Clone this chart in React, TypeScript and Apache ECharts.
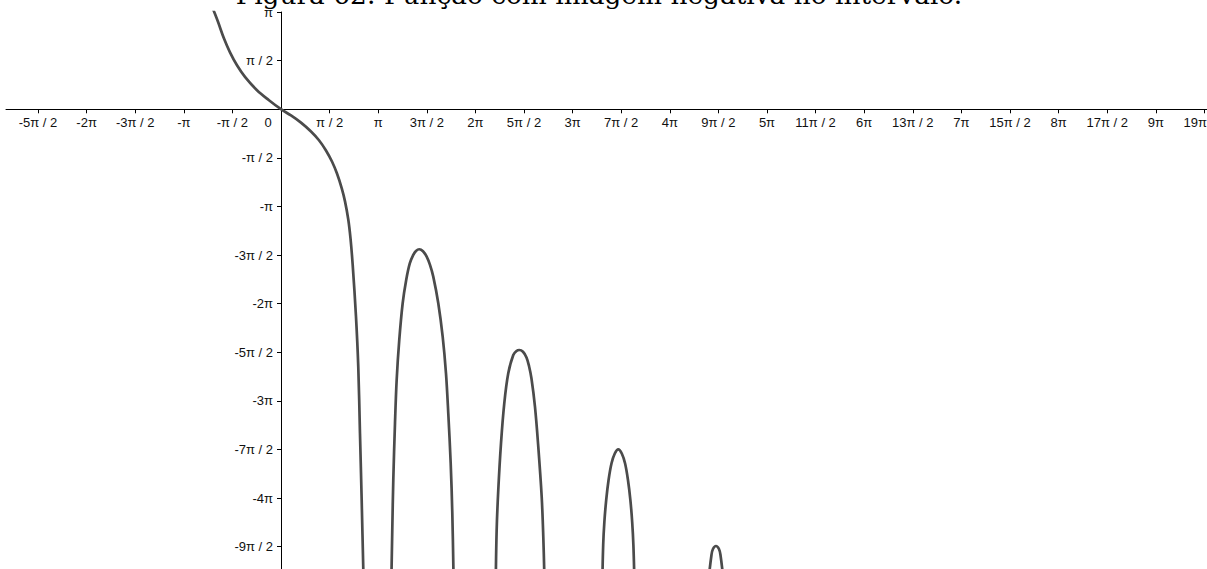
import React, { useEffect, useRef } from "react";
import * as echarts from "echarts";

const TITLE = "Figura 62: Função com imagem negativa no intervalo.";

// tick positions in multiples of π/2, with their labels
const xTickHalves = [-5, -4, -3, -2, -1, 0, 1, 2, 3, 4, 5, 6, 7, 8, 9, 10, 11, 12, 13, 14, 15, 16, 17, 18, 19];
const xTickLabels = [
  "-5π / 2", "-2π", "-3π / 2", "-π", "-π / 2", "0", "π / 2", "π", "3π / 2", "2π", "5π / 2", "3π",
  "7π / 2", "4π", "9π / 2", "5π", "11π / 2", "6π", "13π / 2", "7π", "15π / 2", "8π", "17π / 2", "9π", "19π / 2",
];
const yTickHalves = [2, 1, -1, -2, -3, -4, -5, -6, -7, -8, -9];
const yTickLabels = ["π", "π / 2", "-π / 2", "-π", "-3π / 2", "-2π", "-5π / 2", "-3π", "-7π / 2", "-4π", "-9π / 2"];

// curve pieces, [x, y] in radians
const mainBranch = [
  [-2.262, 3.413], [-2.198, 3.245], [-2.036, 2.825], [-1.842, 2.282], [-1.648, 1.836], [-1.422, 1.419],
  [-1.164, 1.044], [-0.776, 0.614], [-0.388, 0.291], [0, 0], [0.323, -0.2], [0.646, -0.433], [0.97, -0.718],
  [1.228, -1.002], [1.454, -1.332], [1.648, -1.69], [1.81, -2.078], [1.962, -2.55], [2.069, -2.977],
  [2.175, -3.565], [2.246, -4.169], [2.317, -5.023], [2.424, -6.703], [2.498, -8.319], [2.553, -10.472],
  [2.608, -12.628], [2.66, -14.858], [2.67, -15.2],
];
const arch1 = [
  [3.568, -15.2], [3.597, -13.597], [3.63, -11.981], [3.685, -10.139], [3.739, -8.749], [3.823, -7.456],
  [3.933, -6.27], [4.047, -5.517], [4.163, -4.984], [4.276, -4.709], [4.363, -4.58], [4.47, -4.525],
  [4.59, -4.59], [4.709, -4.764], [4.816, -5.032], [4.922, -5.41], [5.084, -6.27], [5.226, -7.35],
  [5.333, -8.533], [5.407, -9.825], [5.485, -11.441], [5.537, -13.048], [5.579, -15.2],
];
const arch2 = [
  [6.942, -15.2], [6.971, -13.597], [7.023, -12.304], [7.111, -10.795], [7.217, -9.502], [7.346, -8.533],
  [7.508, -7.941], [7.612, -7.812], [7.702, -7.78], [7.822, -7.838], [7.935, -8.022], [8.016, -8.297],
  [8.096, -8.701], [8.209, -9.612], [8.316, -10.905], [8.426, -12.521], [8.478, -13.814], [8.516, -15.2],
];
const arch3 = [
  [10.388, -15.2], [10.414, -14.082], [10.452, -13.339], [10.511, -12.628], [10.588, -11.981],
  [10.682, -11.448], [10.789, -11.125], [10.902, -10.989], [11.015, -11.125], [11.122, -11.448],
  [11.215, -11.981], [11.293, -12.628], [11.351, -13.339], [11.39, -14.082], [11.422, -15.2],
];
const arch4 = [
  [13.82, -15.2], [13.914, -14.405], [13.962, -14.211], [14.059, -14.114], [14.156, -14.211],
  [14.205, -14.405], [14.3, -15.2],
];

const X_MIN = -8.888;
const X_MAX = 29.93;
const Y_MIN = -14.857;
const Y_MAX = Math.PI;

// layout of the drawing area (pixels)
const LEFT = 6;
const TOP = 12;
const ORIGIN_X = 281;
const ORIGIN_Y = 109.3;

const HALF = Math.PI / 2;

function labelFor(halves: number[], labels: string[], v: number) {
  const k = Math.round(v / HALF);
  const i = halves.indexOf(k);
  return i >= 0 ? labels[i] : "";
}

export default function App() {
  const ref = useRef<HTMLDivElement>(null);
  useEffect(() => {
    if (!ref.current) return;
    const chart = echarts.init(ref.current, null, { renderer: "svg" });
    const lineStyle = { color: "#4b4b4b", width: 2.7 };
    const mk = (data: number[][]) => ({
      type: "line",
      xAxisIndex: 0,
      yAxisIndex: 0,
      data,
      showSymbol: false,
      smooth: 0.35,
      clip: true,
      lineStyle,
      silent: true,
    });
    const labelFont = { fontFamily: "Liberation Sans", fontSize: 13, color: "#111" };
    const hidden = { show: false };
    chart.setOption({
      animation: false,
      grid: [
        { left: LEFT, right: 0, top: TOP, bottom: 0, containLabel: false, outerBoundsMode: "none" },
        { left: LEFT, right: 0, top: TOP, height: ORIGIN_Y - TOP, containLabel: false, outerBoundsMode: "none" },
        { left: ORIGIN_X, right: 0, top: TOP, bottom: 0, containLabel: false, outerBoundsMode: "none" },
      ],
      xAxis: [
        { type: "value", gridIndex: 0, min: X_MIN, max: X_MAX, ...hidden },
        {
          type: "value",
          gridIndex: 1,
          min: X_MIN,
          max: X_MAX,
          position: "bottom",
          axisLine: { show: true, onZero: false, lineStyle: { color: "#000", width: 1 } },
          axisTick: {
            show: true,
            length: 4,
            customValues: xTickHalves.filter((k) => k !== 0).map((k) => k * HALF),
            lineStyle: { color: "#000" },
          },
          axisLabel: {
            ...labelFont,
            margin: 7,
            customValues: xTickHalves.map((k) => k * HALF),
            formatter: (v: number) => {
              const t = labelFor(xTickHalves, xTickLabels, v);
              return Math.round(v / HALF) === 0 ? "{o|" + t + "}" : t;
            },
            rich: { o: { ...labelFont, padding: [0, 26, 0, 0] } },
          },
          splitLine: { show: false },
        },
        { type: "value", gridIndex: 2, min: 0, max: 1, ...hidden },
      ],
      yAxis: [
        { type: "value", gridIndex: 0, min: Y_MIN, max: Y_MAX, ...hidden },
        { type: "value", gridIndex: 1, min: 0, max: 1, ...hidden },
        {
          type: "value",
          gridIndex: 2,
          min: Y_MIN,
          max: Y_MAX,
          position: "left",
          axisLine: { show: true, onZero: false, lineStyle: { color: "#000", width: 1 } },
          axisTick: {
            show: true,
            length: 4,
            customValues: yTickHalves.map((k) => k * HALF),
            lineStyle: { color: "#000" },
          },
          axisLabel: {
            ...labelFont,
            margin: 8,
            customValues: yTickHalves.map((k) => k * HALF),
            formatter: (v: number) => labelFor(yTickHalves, yTickLabels, v),
          },
          splitLine: { show: false },
        },
      ],
      graphic: [
        {
          type: "text",
          x: 599,
          y: -6,
          z: 100,
          style: {
            text: TITLE,
            font: '26.4px "DejaVu Serif"',
            fill: "#000",
            align: "center",
            verticalAlign: "middle",
          },
        },
      ],
      series: [mk(mainBranch), mk(arch1), mk(arch2), mk(arch3), mk(arch4)],
    });
    return () => chart.dispose();
  }, []);
  return (
    <div
      ref={ref}
      style={{ position: "fixed", left: 0, top: 0, width: 1207, height: 569, background: "#fff" }}
    />
  );
}
